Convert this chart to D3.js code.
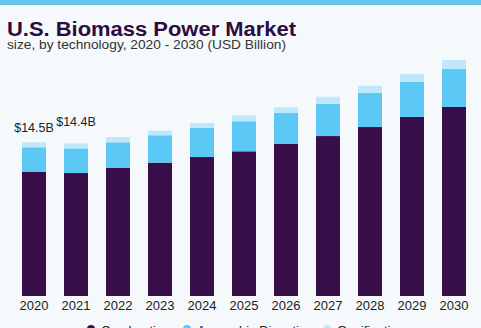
<!DOCTYPE html>
<html>
<head>
<meta charset="utf-8">
<script src="https://cdn.jsdelivr.net/npm/d3@7"></script>
<style>
  html, body { margin: 0; padding: 0; background: #f5f9fc; }
  svg { display: block; }
</style>
</head>
<body>
<div id="chart"></div>
<script>
const years = ["2020", "2021", "2022", "2023", "2024", "2025", "2026", "2027", "2028", "2029", "2030"];
const combustion = [11.70, 11.60, 12.10, 12.58, 13.11, 13.65, 14.34, 15.09, 15.94, 16.89, 17.83];
const anaerobic = [2.33, 2.33, 2.40, 2.58, 2.74, 2.83, 2.95, 3.05, 3.24, 3.33, 3.58];
const gasification = [0.47, 0.47, 0.50, 0.44, 0.47, 0.57, 0.51, 0.66, 0.66, 0.73, 0.85];
const seriesNames = ["Combustion", "Anaerobic Digestion", "Gasification"];
const valueLabels = ["$14.5B", "$14.4B"];

const width = 481, height = 328;
const colors = ["#380e48", "#5bc8f5", "#bfe8fb"];

const svg = d3.select("#chart").append("svg")
  .attr("width", width)
  .attr("height", height);

// top accent stripe
svg.append("rect")
  .attr("x", 0).attr("y", 0)
  .attr("width", width).attr("height", 5)
  .attr("fill", "#64c6ec");

svg.append("text")
  .attr("x", 7).attr("y", 35.5)
  .attr("font-family", "Liberation Sans, Arial, sans-serif")
  .attr("font-weight", "900")
  .attr("font-size", 19.5)
  .attr("fill", "#2d0b40")
  .attr("textLength", 289)
  .attr("lengthAdjust", "spacingAndGlyphs")
  .text("U.S. Biomass Power Market");

svg.append("text")
  .attr("x", 7).attr("y", 49)
  .attr("font-family", "Liberation Sans, Arial, sans-serif")
  .attr("font-size", 13)
  .attr("fill", "#333")
  .attr("textLength", 279)
  .attr("lengthAdjust", "spacingAndGlyphs")
  .text("size, by technology, 2020 - 2030 (USD Billion)");

const rows = years.map((y, i) => ({
  year: y,
  "Combustion": combustion[i],
  "Anaerobic Digestion": anaerobic[i],
  "Gasification": gasification[i]
}));

const stacked = d3.stack().keys(seriesNames)(rows);

const x = d3.scaleBand()
  .domain(years)
  .range([13, 475])
  .paddingInner(18 / 42)
  .paddingOuter(9 / 42);

const y = d3.scaleLinear()
  .domain([0, 20])
  .range([296, 84]);

svg.append("g")
  .selectAll("g")
  .data(stacked)
  .join("g")
  .attr("fill", (d, i) => colors[i])
  .selectAll("rect")
  .data(d => d)
  .join("rect")
  .attr("x", d => x(d.data.year))
  .attr("y", d => y(d[1]))
  .attr("width", x.bandwidth())
  .attr("height", d => y(d[0]) - y(d[1]));

// value labels above the first two bars
const labelGap = [10, 17];
svg.append("g")
  .selectAll("text")
  .data(valueLabels)
  .join("text")
  .attr("x", (d, i) => x(years[i]) + x.bandwidth() / 2)
  .attr("y", (d, i) => y(combustion[i] + anaerobic[i] + gasification[i]) - labelGap[i])
  .attr("text-anchor", "middle")
  .attr("font-family", "Liberation Sans, Arial, sans-serif")
  .attr("font-size", 12.5)
  .attr("fill", "#222")
  .text(d => d);

const xAxis = svg.append("g")
  .attr("transform", "translate(0,296)")
  .call(d3.axisBottom(x).tickSize(0).tickPadding(5));
xAxis.select(".domain").remove();
xAxis.selectAll("text")
  .attr("font-family", "Liberation Sans, Arial, sans-serif")
  .attr("font-size", 13)
  .attr("fill", "#222");

// legend
const legendX = [91, 187, 327];
const legend = svg.append("g")
  .selectAll("g")
  .data(seriesNames)
  .join("g")
  .attr("transform", (d, i) => `translate(${legendX[i]},329)`);
legend.append("circle")
  .attr("r", 4)
  .attr("fill", (d, i) => colors[i]);
legend.append("text")
  .attr("x", 10)
  .attr("y", 5.5)
  .attr("font-family", "Liberation Sans, Arial, sans-serif")
  .attr("font-size", 13)
  .attr("fill", "#222")
  .text(d => d);
</script>
</body>
</html>
